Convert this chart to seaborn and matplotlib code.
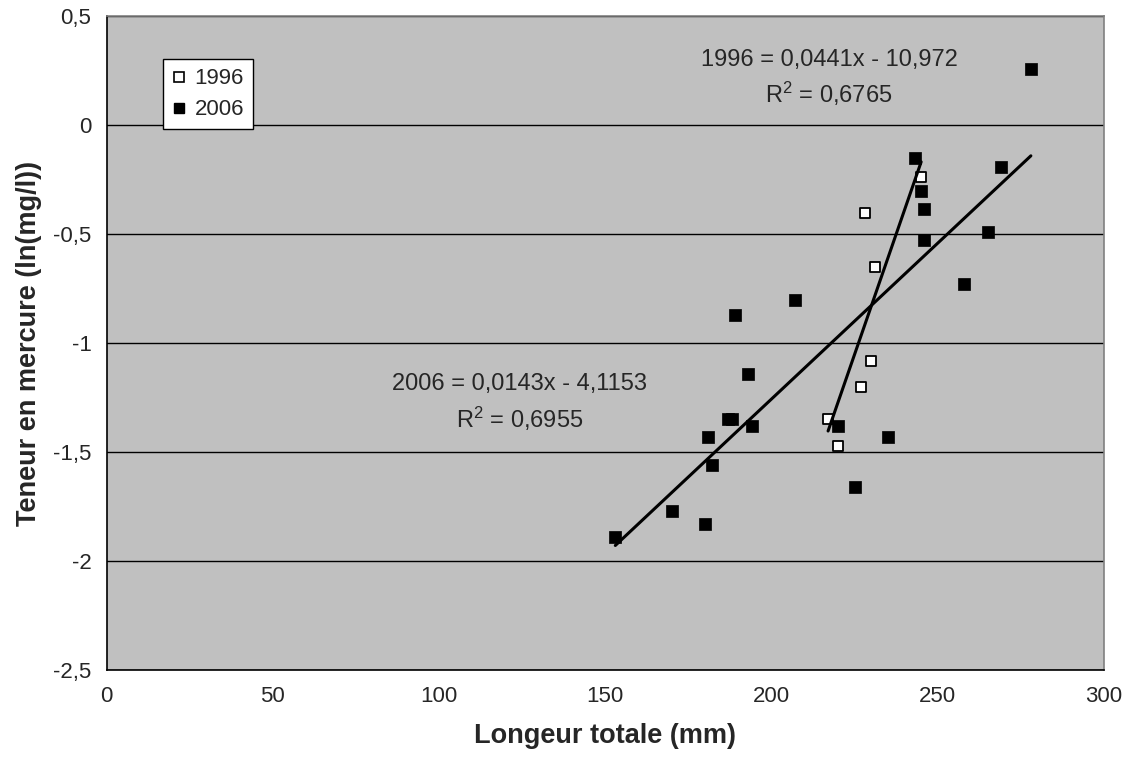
import matplotlib
matplotlib.use("Agg")
import matplotlib.pyplot as plt
import seaborn as sns
import pandas as pd
import numpy as np
from matplotlib.lines import Line2D

# ---- data ----
x_1996 = [228, 231, 245, 230, 227, 217, 220]
y_1996 = [-0.40, -0.65, -0.235, -1.08, -1.20, -1.345, -1.47]

x_2006 = [153, 170, 180, 181, 182, 187, 188, 189, 193, 194, 207, 220, 225, 235,
          278, 243, 269, 245, 246, 246, 265, 258]
y_2006 = [-1.89, -1.77, -1.83, -1.43, -1.56, -1.345, -1.345, -0.87, -1.14, -1.38,
          -0.80, -1.38, -1.66, -1.43, 0.26, -0.15, -0.19, -0.30, -0.385, -0.525,
          -0.49, -0.73]

years = ["1996", "2006"]
slopes = [0.0441, 0.0143]
intercepts = [-10.972, -4.1153]
eq_labels = ["1996 = 0,0441x - 10,972\nR$^2$ = 0,6765",
             "2006 = 0,0143x - 4,1153\nR$^2$ = 0,6955"]

x_ticks = [0, 50, 100, 150, 200, 250, 300]
y_ticks = [0.5, 0, -0.5, -1, -1.5, -2, -2.5]
x_label = "Longeur totale (mm)"
y_label = "Teneur en mercure (ln(mg/l))"

# ---- style ----
sns.set_style("white")
plt.rcParams['font.family'] = ['Liberation Sans', 'DejaVu Sans']
plt.rcParams['mathtext.fontset'] = 'custom'
plt.rcParams['mathtext.rm'] = 'Liberation Sans'
plt.rcParams['mathtext.it'] = 'Liberation Sans'

fig = plt.figure(figsize=(11.30, 7.63), dpi=100)
ax = fig.add_axes([0.0944, 0.1215, 0.977 - 0.0944, 0.9786 - 0.1215])
ax.set_facecolor("#C0C0C0")

df96 = pd.DataFrame({"x": x_1996, "y": y_1996})
df06 = pd.DataFrame({"x": x_2006, "y": y_2006})

sns.scatterplot(data=df96, x="x", y="y", ax=ax, marker="s", s=55,
                facecolor="white", edgecolor="black", linewidth=1.3, zorder=3)
sns.scatterplot(data=df06, x="x", y="y", ax=ax, marker="s", s=70,
                color="black", edgecolor="black", linewidth=0.5, zorder=3)

# trend lines from equation coefficients over each series' range
for xs, m, b in [(x_1996, slopes[0], intercepts[0]), (x_2006, slopes[1], intercepts[1])]:
    xr = np.array([min(xs), max(xs)], dtype=float)
    sns.lineplot(x=xr, y=m * xr + b, ax=ax, color="black", linewidth=2.2, zorder=4)

ax.set_xlim(0, 300)
ax.set_ylim(-2.5, 0.5)
ax.set_xticks(x_ticks)
ax.set_yticks(y_ticks)
ax.set_xticklabels([str(t) for t in x_ticks])
ax.set_yticklabels([("%g" % t).replace(".", ",") for t in y_ticks])
ax.tick_params(axis="both", direction="out", length=5, width=1, color="black",
               labelsize=16, pad=6)
ax.yaxis.grid(True, color="black", linewidth=1)
ax.xaxis.grid(False)
ax.set_axisbelow(True)

for s in ["left", "bottom"]:
    ax.spines[s].set_color("black")
    ax.spines[s].set_linewidth(1.2)
for s in ["top", "right"]:
    ax.spines[s].set_color("#808080")
    ax.spines[s].set_linewidth(1.2)

ax.set_xlabel(x_label, fontsize=19.5, fontweight="bold", labelpad=12)
ax.set_ylabel(y_label, fontsize=19.5, fontweight="bold", labelpad=8)

ax.text(217.3, 0.215, eq_labels[0], ha="center", va="center", fontsize=17,
        linespacing=1.4)
ax.text(124.3, -1.273, eq_labels[1], ha="center", va="center", fontsize=17,
        linespacing=1.4)

handles = [Line2D([], [], marker="s", linestyle="none", markerfacecolor="white",
                  markeredgecolor="black", markersize=7, markeredgewidth=1.2),
           Line2D([], [], marker="s", linestyle="none", markerfacecolor="black",
                  markeredgecolor="black", markersize=7)]
leg = ax.legend(handles, years, loc="upper left", bbox_to_anchor=(0.0568, 0.934),
                fontsize=16, frameon=True, fancybox=False, framealpha=1,
                edgecolor="black", handlelength=0.6, handletextpad=0.4,
                borderpad=0.4, labelspacing=0.45, borderaxespad=0)
leg.get_frame().set_linewidth(1)

fig.savefig("out.png", dpi=100)
